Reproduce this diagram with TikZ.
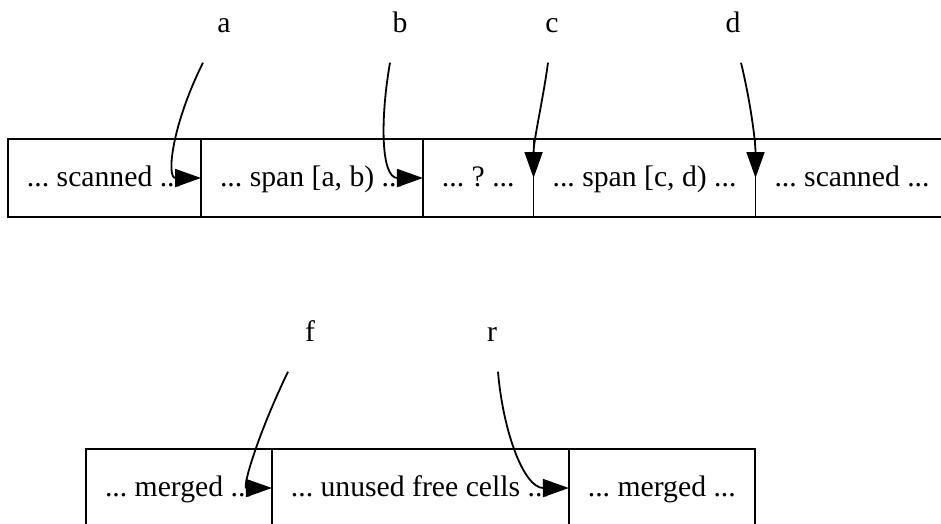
\documentclass[tikz,border=0pt]{standalone}
\usepackage{fontspec}
\setmainfont{Liberation Serif}
\usepackage{tikz}
\usetikzlibrary{positioning,arrows.meta}
\frenchspacing

\tikzset{
  cell/.style={draw, line width=1.8pt, minimum height=78pt, inner xsep=19pt, outer sep=0pt, text height=22pt, text depth=5pt},
  lbl/.style={minimum height=77pt, text height=22pt, text depth=5pt},
  ptr/.style={line width=1.8pt, -{Triangle[length=26pt,width=18pt]}}
}

\begin{document}
\begin{tikzpicture}[x=1pt, y=-1pt, font=\fontsize{29.7pt}{36pt}\selectfont]
        \useasboundingbox (0,0) rectangle (941,523);
        \clip (0,0) rectangle (941,523);

        % Scan row
        \node[cell, anchor=west] (scanL) at (8,178) {... scanned ...};
        \node[cell, right=0pt of scanL] (spanAB) {... span [a, b) ...};
        \node[cell, right=0pt of spanAB] (unknown) {... ? ...};
        \node[cell, right=0pt of unknown] (spanCD) {... span [c, d) ...};
        \node[cell, right=0pt of spanCD] (scanR) {... scanned ...};

        % Scan pointers
        \node[lbl] (a) at (224,24) {a};
        \node[lbl] (b) at (400,24) {b};
        \node[lbl] (c) at (552,24) {c};
        \node[lbl] (d) at (733,24) {d};

        \draw[ptr] ([xshift=-21pt]a.south) .. controls +(-31,62) and +(-35,0) .. (spanAB.west);
        \draw[ptr] ([xshift=-10pt]b.south) .. controls +(-10,57) and +(-42,0) .. (unknown.west);
        \draw[ptr] ([xshift=-4pt]c.south) .. controls +(-5,37) and +(0,-38) .. (spanCD.west);
        \draw[ptr] ([xshift=8pt]d.south) .. controls +(9,37) and +(0,-38) .. (scanR.west);

        % Free list row
        \node[cell, anchor=west] (mergedL) at (86,488) {... merged ...};
        \node[cell, right=0pt of mergedL] (unused) {... unused free cells ...};
        \node[cell, right=0pt of unused] (mergedR) {... merged ...};

        % Free pointers
        \node[lbl] (f) at (310,333) {f};
        \node[lbl] (r) at (492,333) {r};

        \draw[ptr] ([xshift=-22pt]f.south) .. controls +(-30,62) and +(-30,0) .. (unused.west);
        \draw[ptr] ([xshift=6pt]r.south) .. controls +(5,60) and +(-45,0) .. (mergedR.west);
\end{tikzpicture}
\end{document}
